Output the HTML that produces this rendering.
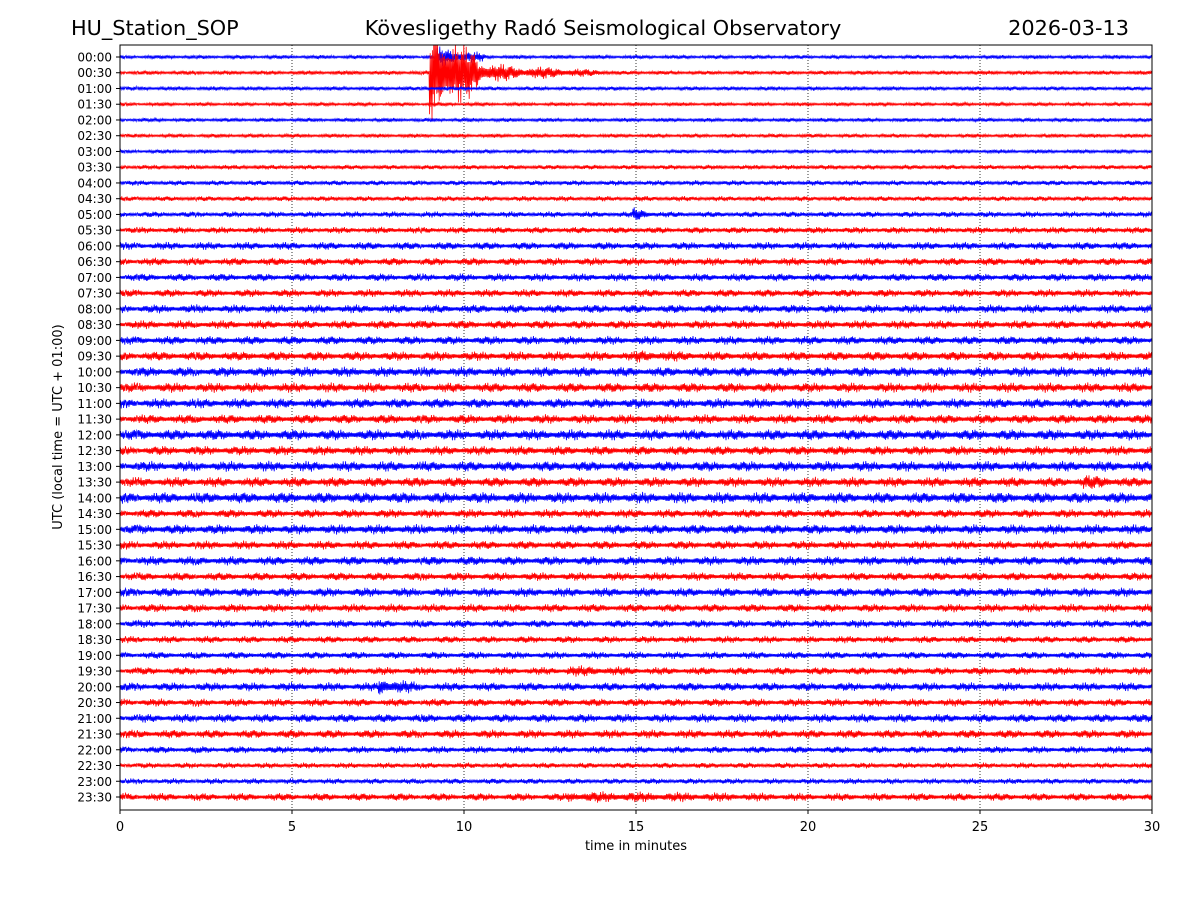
<!DOCTYPE html>
<html><head><meta charset="utf-8"><style>
body{margin:0;background:#fff;font-family:"DejaVu Sans","Liberation Sans",sans-serif;}
svg text{font-family:"DejaVu Sans","Liberation Sans",sans-serif;}
</style></head><body>
<svg id="chart" width="1200" height="900" xmlns="http://www.w3.org/2000/svg">
<rect width="1200" height="900" fill="#fff"/>
<text x="71" y="35" font-size="20.8">HU_Station_SOP</text>
<text x="603" y="35" font-size="20.8" text-anchor="middle">Kövesligethy Radó Seismological Observatory</text>
<text x="1129" y="35" font-size="20.8" text-anchor="end">2026-03-13</text>
<defs><clipPath id="plotclip"><rect x="120" y="45" width="1032" height="765"/></clipPath></defs>
<g id="grid"></g>
<g id="traces" clip-path="url(#plotclip)"></g>
<rect x="120" y="45" width="1032" height="765" fill="none" stroke="#000" stroke-width="1"/>
<g id="yticks"></g>
<g id="xticks"></g>
<text x="636" y="850" font-size="13" text-anchor="middle">time in minutes</text>
<text transform="translate(62,427) rotate(-90)" font-size="13" text-anchor="middle">UTC (local time = UTC + 01:00)</text>
</svg>
<script>
const rowLabels=["00:00","00:30","01:00","01:30","02:00","02:30","03:00","03:30","04:00","04:30","05:00","05:30","06:00","06:30","07:00","07:30","08:00","08:30","09:00","09:30","10:00","10:30","11:00","11:30","12:00","12:30","13:00","13:30","14:00","14:30","15:00","15:30","16:00","16:30","17:00","17:30","18:00","18:30","19:00","19:30","20:00","20:30","21:00","21:30","22:00","22:30","23:00","23:30"];
const baseAmp=[1.5,1.6,1.6,1.4,1.5,1.5,1.5,1.8,2,2,2.3,2.5,3,3,3,3,3.3,3.3,3.3,3.6,3.8,3.8,3.8,3.6,4.2,3.6,4,3.8,4.3,3.3,3.8,3.3,3.5,3.2,3.5,3.2,3,2.7,2.8,3,3.3,3,3.3,3.3,2.7,2.2,2.2,3];
const evRow=[1,1,1,0,10,40,27,19,39,47];
const evStart=[9.0,10.4,11.8,9.2,14.9,7.5,28.0,15,13,13];
const evEnd=[10.4,11.8,14.2,10.6,15.6,8.8,30,19,17,25];
const evAmp=[40,10,5.5,8,6,8,6,5,4.5,4.5];
const xTicks=[0,5,10,15,20,25,30];
const X0=120,X1=1152,Y0=57,DY=(797-57)/47;
const xs=m=>X0+(X1-X0)*m/30;
const ys=r=>Y0+r*DY;
const NS="http://www.w3.org/2000/svg";
const mk=(t,a,p)=>{const e=document.createElementNS(NS,t);for(const k in a)e.setAttribute(k,a[k]);p.appendChild(e);return e;};
const grid=document.getElementById('grid');
xTicks.slice(1,-1).forEach(t=>{
 const l=mk('line',{x1:xs(t),x2:xs(t),y1:45,y2:810,stroke:'#000','stroke-width':0.8,'stroke-dasharray':'1,2'},grid);
 
 
});
const tr=document.getElementById('traces');
rowLabels.forEach((lab,r)=>{
 let pts=[];
 const y=ys(r);
 for(let px=0;px<=X1-X0;px+=0.6){
  const m=px/(X1-X0)*30;
  let a=baseAmp[r];
  for(let k=0;k<evRow.length;k++){
   if(evRow[k]===r&&m>=evStart[k]&&m<evEnd[k]){
    const f=1-(m-evStart[k])/(evEnd[k]-evStart[k])*0.6;
    a=Math.max(a,evAmp[k]*f);
   }
  }
  const i=px/0.6;
  const s=(i%2<1?1:-1)*(0.3+0.7*Math.abs(Math.sin(i*1.37+r*2.1)*Math.cos(i*0.0473+r)*Math.sin(i*0.71+r*0.3)));
  pts.push((X0+px).toFixed(1)+','+(y+a*s*1.4).toFixed(1));
 }
 const p=mk('polyline',{points:pts.join(' '),fill:'none',stroke:r%2?'#ff0000':'#0000ff','stroke-width':0.8},tr);
 
 
});
const yt=document.getElementById('yticks');
rowLabels.forEach((lab,r)=>{
 mk('line',{x1:116,x2:120,y1:ys(r),y2:ys(r),stroke:'#000'},yt);
 const t=mk('text',{x:112,y:ys(r)+4.5,'font-size':12,'text-anchor':'end'},yt);
 t.textContent=lab;
 
 
});
const xt=document.getElementById('xticks');
xTicks.forEach(v=>{
 mk('line',{x1:xs(v),x2:xs(v),y1:810,y2:814,stroke:'#000'},xt);
 const t=mk('text',{x:xs(v),y:831,'font-size':13,'text-anchor':'middle'},xt);
 t.textContent=v;
 
 
});
</script>
</body></html>
